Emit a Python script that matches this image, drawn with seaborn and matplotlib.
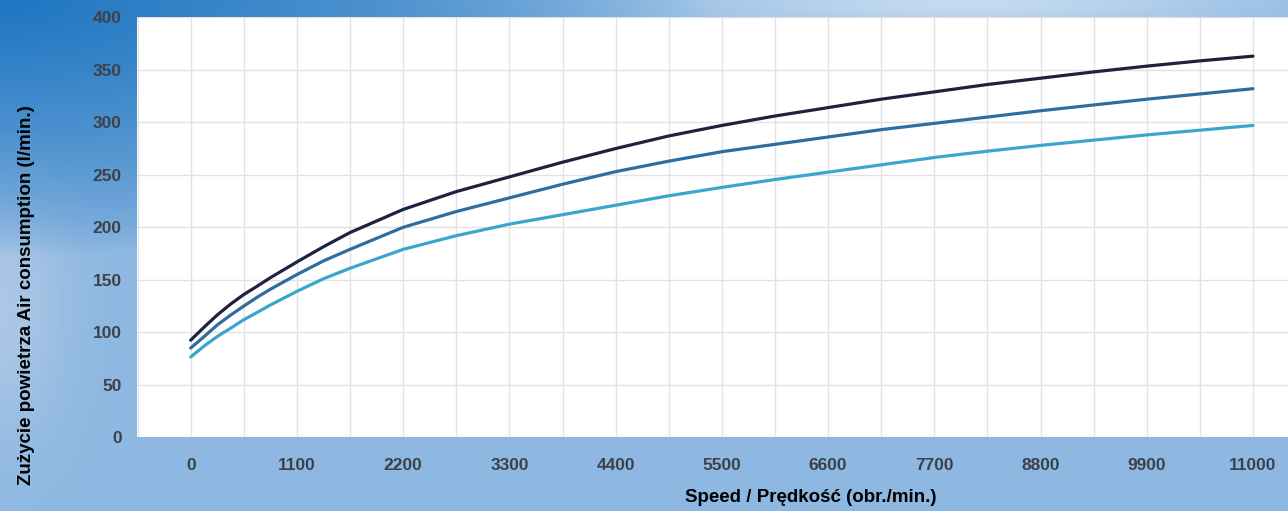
import numpy as np
import pandas as pd
import matplotlib
matplotlib.use("Agg")
import matplotlib.pyplot as plt
from matplotlib.ticker import MultipleLocator
import seaborn as sns

# ---- data ----
speed = [0, 140, 275, 415, 550, 690, 825, 1100, 1375, 1650, 2200, 2750,
         3300, 3850, 4400, 4950, 5500, 6050, 6600, 7150, 7700, 8250, 8800,
         9350, 9900, 10450, 11000]
air_dark = [92.5, 105, 116.5, 127, 136, 144, 152, 167, 181.5, 195, 217, 234,
            248, 262, 275, 287, 297, 306, 314, 322, 329, 336, 342,
            348, 353.5, 358.5, 363]
air_mid = [85, 96, 107, 116.5, 125, 133.5, 141, 155, 168, 179, 200, 215,
           228, 241, 253, 263, 272, 279, 286, 293, 299, 305, 311,
           316.5, 322, 327, 332]
air_light = [76.5, 87, 96, 104, 112, 119, 126, 139, 151, 161, 179, 192,
             203, 212, 221, 230, 238, 245.5, 252.5, 259.5, 266.5, 272.5, 278,
             283, 288, 292.5, 297]
series_names = ["A", "B", "C"]
series_colors = ["#1f2140", "#2f6d9e", "#3aa6cc"]
x_ticks = [0, 1100, 2200, 3300, 4400, 5500, 6600, 7700, 8800, 9900, 11000]
y_ticks = [0, 50, 100, 150, 200, 250, 300, 350, 400]
x_label = "Speed / Prędkość (obr./min.)"
y_label = "Zużycie powietrza Air consumption (l/min.)"

df = pd.concat([
    pd.DataFrame({"speed": speed, "air": vals, "series": name})
    for name, vals in zip(series_names, [air_dark, air_mid, air_light])
])

sns.set_theme(style="white")
plt.rcParams["font.family"] = ["Liberation Sans", "DejaVu Sans"]

W, H = 1288, 511
fig = plt.figure(figsize=(W / 100, H / 100), dpi=100)

# background gradient
bg_ax = fig.add_axes([0, 0, 1, 1], zorder=0)
u = np.linspace(0, 1, W)[None, :]
v = np.linspace(0, 1, H)[:, None]
base = np.array([0x8e, 0xb8, 0xe1]) / 255.0
dark = np.array([0x1e, 0x76, 0xc2]) / 255.0
light = np.array([0xc4, 0xda, 0xf0]) / 255.0
glow = np.array([0xb0, 0xc9, 0xe6]) / 255.0
w_dark = np.clip(1 - np.sqrt((u / 0.55) ** 2 + (v / 0.5) ** 2), 0, 1) ** 0.7
w_light = np.exp(-(((u - 0.75) / 0.22) ** 2 + (v / 0.07) ** 2))
w_glow = 0.9 * np.exp(-((u / 0.05) ** 2 + ((v - 0.6) / 0.25) ** 2))
img = base[None, None, :] * np.ones((H, W, 1))
img = img * (1 - w_glow[..., None]) + glow * w_glow[..., None]
img = img * (1 - w_dark[..., None]) + dark * w_dark[..., None]
img = img * (1 - w_light[..., None]) + light * w_light[..., None]
bg_ax.imshow(img, aspect="auto", extent=[0, 1, 0, 1])
bg_ax.set_axis_off()

ax = fig.add_axes([137 / W, 1 - 437.3 / H, 1 - 137 / W, (437.3 - 17.3) / H], zorder=1)
ax.set_facecolor("white")
sns.lineplot(data=df, x="speed", y="air", hue="series", palette=series_colors,
             linewidth=2.3, legend=False, ax=ax)

ax.set_xlim(-556, 11362)
ax.set_ylim(0, 400)
ax.set_xticks(x_ticks)
ax.xaxis.set_minor_locator(MultipleLocator(550))
ax.set_yticks(y_ticks)
ax.grid(True, which="both", axis="x", color="#e2e2e2", linewidth=1.0)
ax.grid(True, which="major", axis="y", color="#e2e2e2", linewidth=1.0)
ax.set_axisbelow(True)
for s in ax.spines.values():
    s.set_visible(False)
ax.tick_params(axis="both", which="both", length=0)
ax.tick_params(axis="x", pad=15)
ax.tick_params(axis="y", pad=11)
for lab in ax.get_xticklabels() + ax.get_yticklabels():
    lab.set_fontsize(12.5)
    lab.set_fontweight("bold")
    lab.set_color("#3c414b")
ax.set_xlabel("")
ax.set_ylabel("")

fig.text(811 / W, 1 - 497 / H, x_label, ha="center", va="center",
         fontsize=13.5, fontweight="bold", color="black")
fig.text(27 / W, 1 - 295 / H, y_label, ha="center", va="center", rotation=90,
         fontsize=13.5, fontweight="bold", color="black")

fig.savefig("out.png", dpi=100)
